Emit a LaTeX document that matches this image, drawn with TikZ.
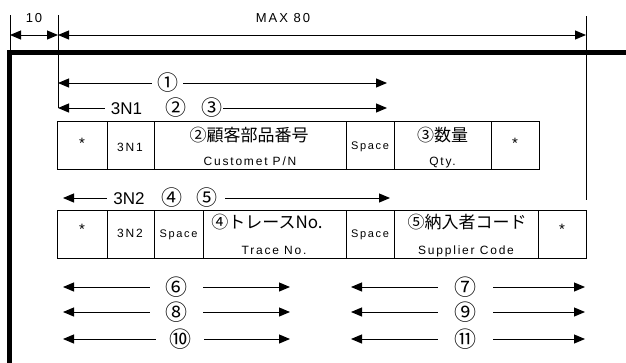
\documentclass[tikz,border=0pt]{standalone}
\usepackage{fontspec}
\setmainfont{Liberation Sans}
\newfontfamily\jpf{Noto Sans CJK JP}
\newfontfamily\lsf[LetterSpace=15]{Liberation Sans}
\usetikzlibrary{arrows.meta}
\begin{document}
\begin{tikzpicture}[x=1pt,y=-1pt,
  tip/.tip={Triangle[length=11pt,width=9pt]},
  arr/.style={line width=1pt,-tip},
  dbl/.style={line width=1pt,tip-tip},
  guide/.style={line width=1pt},
  frame/.style={line width=5pt},
  cell/.style={draw,line width=1pt,anchor=north west,minimum height=48pt,inner sep=0pt},
  big/.style={font=\fontsize{17}{20}\selectfont,inner sep=0pt},
  circ/.style={font=\jpf\fontsize{21}{24}\selectfont,inner sep=0pt},
  circb/.style={font=\jpf\fontsize{22}{24}\selectfont,inner sep=0pt},
  jp/.style={font=\jpf\fontsize{17}{20}\selectfont,inner sep=0pt},
  sm/.style={font=\lsf\fontsize{12}{14}\selectfont,inner sep=0pt},
  ast/.style={font=\fontsize{15}{16}\selectfont,inner sep=0pt},
  sps/.style={font=\lsf\fontsize{11}{13}\selectfont,inner sep=0pt,anchor=base},
  dim/.style={font=\lsf\fontsize{13}{15}\selectfont,inner sep=0pt},
]
\useasboundingbox (0,0) rectangle (626,362);
\fill[white] (0,0) rectangle (626,362);

% guide lines
\coordinate (g1t) at (10,15);  \coordinate (g1b) at (10,52);
\coordinate (g2t) at (58,15);  \coordinate (g2b) at (58,108);
\coordinate (g3t) at (586,16); \coordinate (g3b) at (586,200);
\draw[guide] (g1t) -- (g1b);
\draw[guide] (g2t) -- (g2b);
\draw[guide] (g3t) -- (g3b);

% dimensions
\coordinate (d1) at (10,35); \coordinate (d2) at (58,35); \coordinate (d3) at (586,35);
\draw[dbl] (d1) -- (d2);
\draw[dbl] (d2) -- (d3);
\node[dim] (t10) at (34,18.5) {10};
\node[dim] (tmax) at (283,18.5) {MAX 80};

% thick frame
\coordinate (f1) at (9.5,380); \coordinate (f2) at (9.5,52.5); \coordinate (f3) at (640,52.5);
\draw[frame] (f1) -- (f2) -- (f3);

% row 1
\node[circ,minimum width=31pt] (c1) at (167.5,83) {①};
\coordinate (r1l) at (58,83); \coordinate (r1r) at (387,83);
\draw[arr] (c1.west) -- (r1l);
\draw[arr] (c1.east) -- (r1r);

% row 3N1
\node[big,minimum width=43pt] (n31) at (126.5,108.5) {3N1};
\node[circ] (c2) at (176,108) {②};
\node[circ,minimum width=22pt] (c3) at (212,108) {③};
\coordinate (r2l) at (58,108); \coordinate (r2r) at (387,108);
\draw[arr] (n31.west|-r2l) -- (r2l);
\draw[arr] (c3.east|-r2r) -- (r2r);

% table 1
\node[cell,minimum width=50pt]  (a1) at (57,121) {};
\node[cell,minimum width=47pt]  (a2) at (107,121) {};
\node[cell,minimum width=192pt] (a3) at (154,121) {};
\node[cell,minimum width=48pt]  (a4) at (346,121) {};
\node[cell,minimum width=97pt]  (a5) at (394,121) {};
\node[cell,minimum width=48pt]  (a6) at (491,121) {};
\node[ast] (s1) at (82,143) {*};
\node[sm] (t31) at (130,147) {3N1};
\node[jp] (h2) at (249,135) {②顧客部品番号};
\node[sm,anchor=base] (e2) at (250,165) {Customet P/N};
\node[sps] (sp1) at (370,149) {Space};
\node[jp] (h3) at (442.5,135) {③数量};
\node[sm,anchor=base] (e3) at (442.5,165) {Qty.};
\node[ast] (s2) at (515,143) {*};

% row 3N2
\node[big,minimum width=44pt] (n32) at (129,198.5) {3N2};
\node[circ] (c4) at (172,198) {④};
\node[circ,minimum width=36pt] (c5) at (207,198) {⑤};
\coordinate (r3l) at (63,198); \coordinate (r3r) at (390,198);
\draw[arr] (n32.west|-r3l) -- (r3l);
\draw[arr] (c5.east|-r3r) -- (r3r);

% table 2
\node[cell,minimum width=50pt]  (b1) at (57,210) {};
\node[cell,minimum width=47pt]  (b2) at (107,210) {};
\node[cell,minimum width=49pt]  (b3) at (154,210) {};
\node[cell,minimum width=143pt] (b4) at (203,210) {};
\node[cell,minimum width=48pt]  (b5) at (346,210) {};
\node[cell,minimum width=144pt] (b6) at (394,210) {};
\node[cell,minimum width=48pt]  (b7) at (538,210) {};
\node[ast] (s3) at (82,229) {*};
\node[sm] (t32) at (130,233) {3N2};
\node[sps] (sp2) at (178.5,237) {Space};
\node[jp] (h4) at (267,222) {④トレースNo.};
\node[sm,anchor=base] (e4) at (274,254) {Trace No.};
\node[sps] (sp3) at (370,237) {Space};
\node[jp] (h5) at (467,222) {⑤納入者コード};
\node[sm,anchor=base] (e5) at (466,254) {Supplier Code};
\node[ast] (s4) at (562,229) {*};

% bottom arrows
\coordinate (l1a) at (63,287); \coordinate (l1b) at (290,287);
\coordinate (l2a) at (351,287); \coordinate (l2b) at (585,287);
\node[circb,minimum width=53pt] (c6) at (176.5,287) {⑥};
\node[circb,minimum width=55pt] (c7) at (465.5,287) {⑦};
\draw[arr] (c6.west) -- (l1a); \draw[arr] (c6.east) -- (l1b);
\draw[arr] (c7.west) -- (l2a); \draw[arr] (c7.east) -- (l2b);

\coordinate (m1a) at (63,312); \coordinate (m1b) at (290,312);
\coordinate (m2a) at (351,312); \coordinate (m2b) at (585,312);
\node[circb,minimum width=53pt] (c8) at (176.5,312) {⑧};
\node[circb,minimum width=55pt] (c9) at (465.5,312) {⑨};
\draw[arr] (c8.west) -- (m1a); \draw[arr] (c8.east) -- (m1b);
\draw[arr] (c9.west) -- (m2a); \draw[arr] (c9.east) -- (m2b);

\coordinate (n1a) at (63,339); \coordinate (n1b) at (290,339);
\coordinate (n2a) at (351,339); \coordinate (n2b) at (585,339);
\node[circb,minimum width=48pt] (c10) at (180,339) {⑩};
\node[circb,minimum width=55pt] (c11) at (465.5,339) {⑪};
\draw[arr] (c10.west) -- (n1a); \draw[arr] (c10.east) -- (n1b);
\draw[arr] (c11.west) -- (n2a); \draw[arr] (c11.east) -- (n2b);
\end{tikzpicture}
\end{document}
